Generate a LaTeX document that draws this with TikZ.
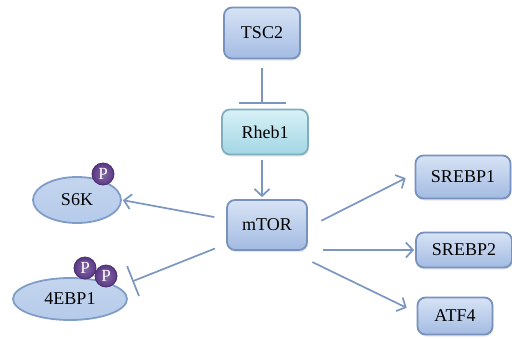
\documentclass[tikz,border=0pt]{standalone}
\usepackage{fontspec}
\setmainfont{Liberation Serif}
\newfontfamily\labelfont{Liberation Serif}
\usetikzlibrary{shapes,shadows,arrows.meta}
\definecolor{genetop}{HTML}{D7E3F5}
\definecolor{genebot}{HTML}{A3BBE2}
\definecolor{geneline}{HTML}{7891BD}
\definecolor{rhebtop}{HTML}{D8F1F6}
\definecolor{rhebbot}{HTML}{A2D6E4}
\definecolor{rhebline}{HTML}{80AEBF}
\definecolor{protfill}{HTML}{B5CBEA}
\definecolor{protline}{HTML}{809DC8}
\definecolor{phosfill}{HTML}{5B3886}
\definecolor{edgecol}{HTML}{7A96C1}
\tikzstyle{genebox}=[rectangle, rounded corners=8pt, draw=geneline, line width=1.8pt, top color=genetop, bottom color=genebot, inner sep=0pt, font=\labelfont\fontsize{18}{20}\selectfont, drop shadow={opacity=0.18, shadow xshift=1pt, shadow yshift=-2pt}]
\tikzstyle{rhebbox}=[genebox, draw=rhebline, top color=rhebtop, bottom color=rhebbot]
\tikzstyle{protein}=[ellipse, draw=protline, line width=1.8pt, top color=protfill!80!white, bottom color=protfill, inner sep=0pt, font=\labelfont\fontsize{18}{20}\selectfont]
\tikzstyle{phos}=[circle, draw=phosfill!80!black, line width=0.8pt, inner color=phosfill!75!white, outer color=phosfill, text=white, inner sep=0pt, minimum size=22pt, font=\labelfont\fontsize{17}{18}\selectfont]
\tikzstyle{act}=[draw=edgecol, line width=1.7pt, -{Straight Barb[length=7pt, width=15pt]}]
\tikzstyle{inh}=[draw=edgecol, line width=1.7pt]
\newcommand{\genebox}[4]{
	\node[genebox, #4] (#1) at (#2) {#3};}
\newcommand{\protein}[4]{
	\node[protein, #4] (#1) at (#2) {#3};}
\newcommand{\phos}[2]{
	\node[phos] (#1) at (#2) {P};}
\begin{document}
\begin{tikzpicture}[x=1pt, y=-1pt]
\useasboundingbox (0,0) rectangle (512,338);
\genebox{tsc2}{262,33}{TSC2}{minimum width=76pt, minimum height=51pt}
\node[rhebbox, minimum width=86pt, minimum height=45pt] (rheb1) at (265,132) {Rheb1};
\genebox{mtor}{267,225}{mTOR}{minimum width=80pt, minimum height=50pt}
\genebox{srebp1}{463,177}{SREBP1}{minimum width=95pt, minimum height=43pt}
\genebox{srebp2}{464,250}{SREBP2}{minimum width=96pt, minimum height=35pt}
\genebox{atf4}{455,316}{ATF4}{minimum width=75pt, minimum height=37pt}
\protein{s6k}{77,200}{S6K}{minimum width=88pt, minimum height=46pt}
\protein{ebp}{70,299}{4EBP1}{minimum width=114pt, minimum height=42pt}
\phos{p1}{103,174}
\phos{p2}{85,268}
\phos{p3}{106,276}
\path[inh, -{Bar[width=47pt]}, shorten <=9pt, shorten >=5pt] (tsc2) -- (tsc2 |- rheb1.north);
\path[act, shorten <=5pt, shorten >=2pt] (rheb1.south -| tsc2) -- (mtor.north -| tsc2);
\path[act, shorten <=12pt, shorten >=1pt] (mtor.172) -- (s6k.east);
\path[inh, -{Bar[width=32pt]}, shorten <=12pt, shorten >=15pt] (mtor.205) -- (ebp.14);
\path[act, shorten <=15pt, shorten >=10pt] ([yshift=-2.5pt]mtor.east) -- (srebp1.176);
\path[act, shorten <=15pt, shorten >=1pt] (mtor.east |- srebp2.west) -- (srebp2.west);
\path[act, shorten <=5pt, shorten >=11pt] ([yshift=-9pt]mtor.south east) -- (atf4.175);
\end{tikzpicture}
\end{document}
